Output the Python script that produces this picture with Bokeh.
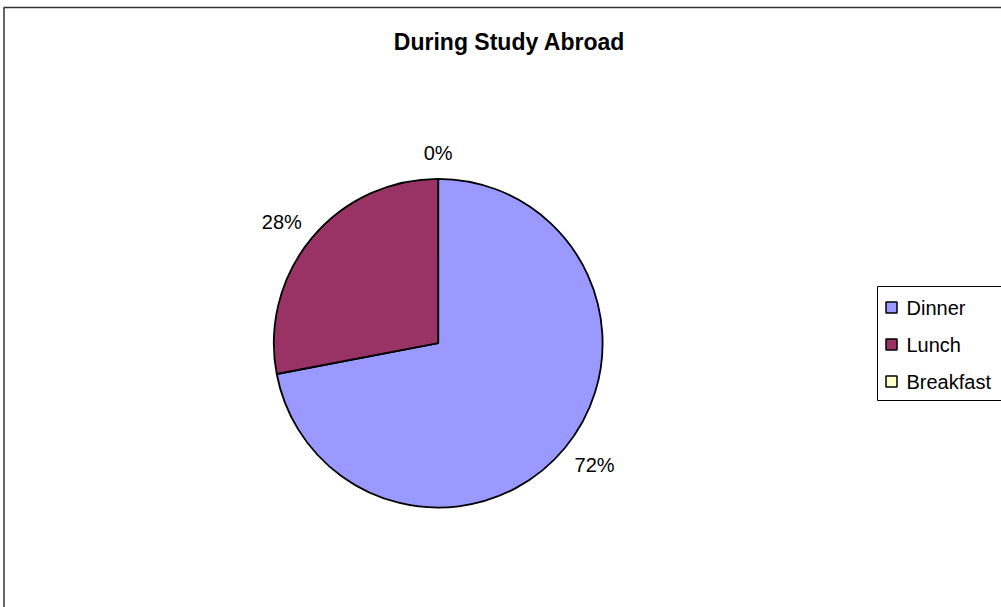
import math
from bokeh.plotting import figure
from bokeh.models import Range1d, ColumnDataSource
from bokeh.core.properties import value
from bokeh.embed import file_html
from bokeh.resources import INLINE

# ---- data ----
title_text = "During Study Abroad"
categories = ["Dinner", "Lunch", "Breakfast"]
shares = [72, 28, 0]          # percent
colors = ["#9999FF", "#993366", "#FFFFCC"]

W, H = 1001, 607
FONT = "Liberation Sans"

p = figure(width=W, height=H, x_range=Range1d(0, W), y_range=Range1d(0, H),
           output_backend="svg", toolbar_location=None,
           x_axis_location=None, y_axis_location=None, min_border=0)
p.grid.visible = False
p.outline_line_color = None
p.background_fill_color = "white"
p.border_fill_color = "white"

def Y(py):
    return H - py

# outer chart frame (extends past the window on right/bottom)
p.quad(left=[3.5], right=[W + 60], top=[Y(7)], bottom=[Y(H + 60)],
       fill_color=None, line_color="#333333", line_width=1.5)

# title
p.text(x=[509], y=[Y(41)], text=[title_text], text_font=value(FONT),
       text_font_size="23px", text_font_style="bold", text_color="black",
       text_align="center", text_baseline="middle")

# pie: slices run clockwise from 12 o'clock in series order
cx, cy, R = 437.7, Y(342.7), 164.4
total = float(sum(shares))
starts, ends, mids = [], [], []
cur = math.pi / 2
for s in shares:
    span = s / total * 2 * math.pi
    # anticlockwise wedge from (cur - span) to cur == clockwise from cur
    starts.append(cur - span)
    ends.append(cur)
    mids.append(cur - span / 2)
    cur -= span

keep = [i for i in range(len(shares)) if shares[i] > 0]
wsrc = ColumnDataSource(dict(
    s=[starts[i] for i in keep],
    e=[ends[i] for i in keep],
    c=[colors[i] for i in keep],
))
p.wedge(x=cx, y=cy, radius=R, start_angle="s", end_angle="e",
        fill_color="c", line_color="black", line_width=1.8, source=wsrc)

# data labels outside the pie
lab_x, lab_y, lab_t = [], [], []
gap = 17.5
for i, s in enumerate(shares):
    t = f"{s}%"
    th = mids[i]
    w = 11.4 * (len(t) - 1) + 19.2
    h = 17.0
    c, sn = math.cos(th), math.sin(th)
    lab_x.append(cx + (R + gap) * c + w / 2 * c)
    lab_y.append(cy + (R + gap) * sn + h / 2 * sn)
    lab_t.append(t)
p.text(x=lab_x, y=lab_y, text=lab_t, text_font=value(FONT),
       text_font_size="20px", text_color="black",
       text_align="center", text_baseline="middle")

# legend
p.quad(left=[877], right=[W + 60], top=[Y(286)], bottom=[Y(400)],
       fill_color="white", line_color="black", line_width=1)
leg_y = [Y(307 + 37 * i) for i in range(len(categories))]
p.rect(x=[891] * len(categories), y=leg_y, width=11, height=11,
       fill_color=colors, line_color="black", line_width=1.5)
p.text(x=[906] * len(categories), y=leg_y, text=categories, text_font=value(FONT),
       text_font_size="20px", text_color="black",
       text_align="left", text_baseline="middle")

open("out.html", "w").write(file_html(p, INLINE))
